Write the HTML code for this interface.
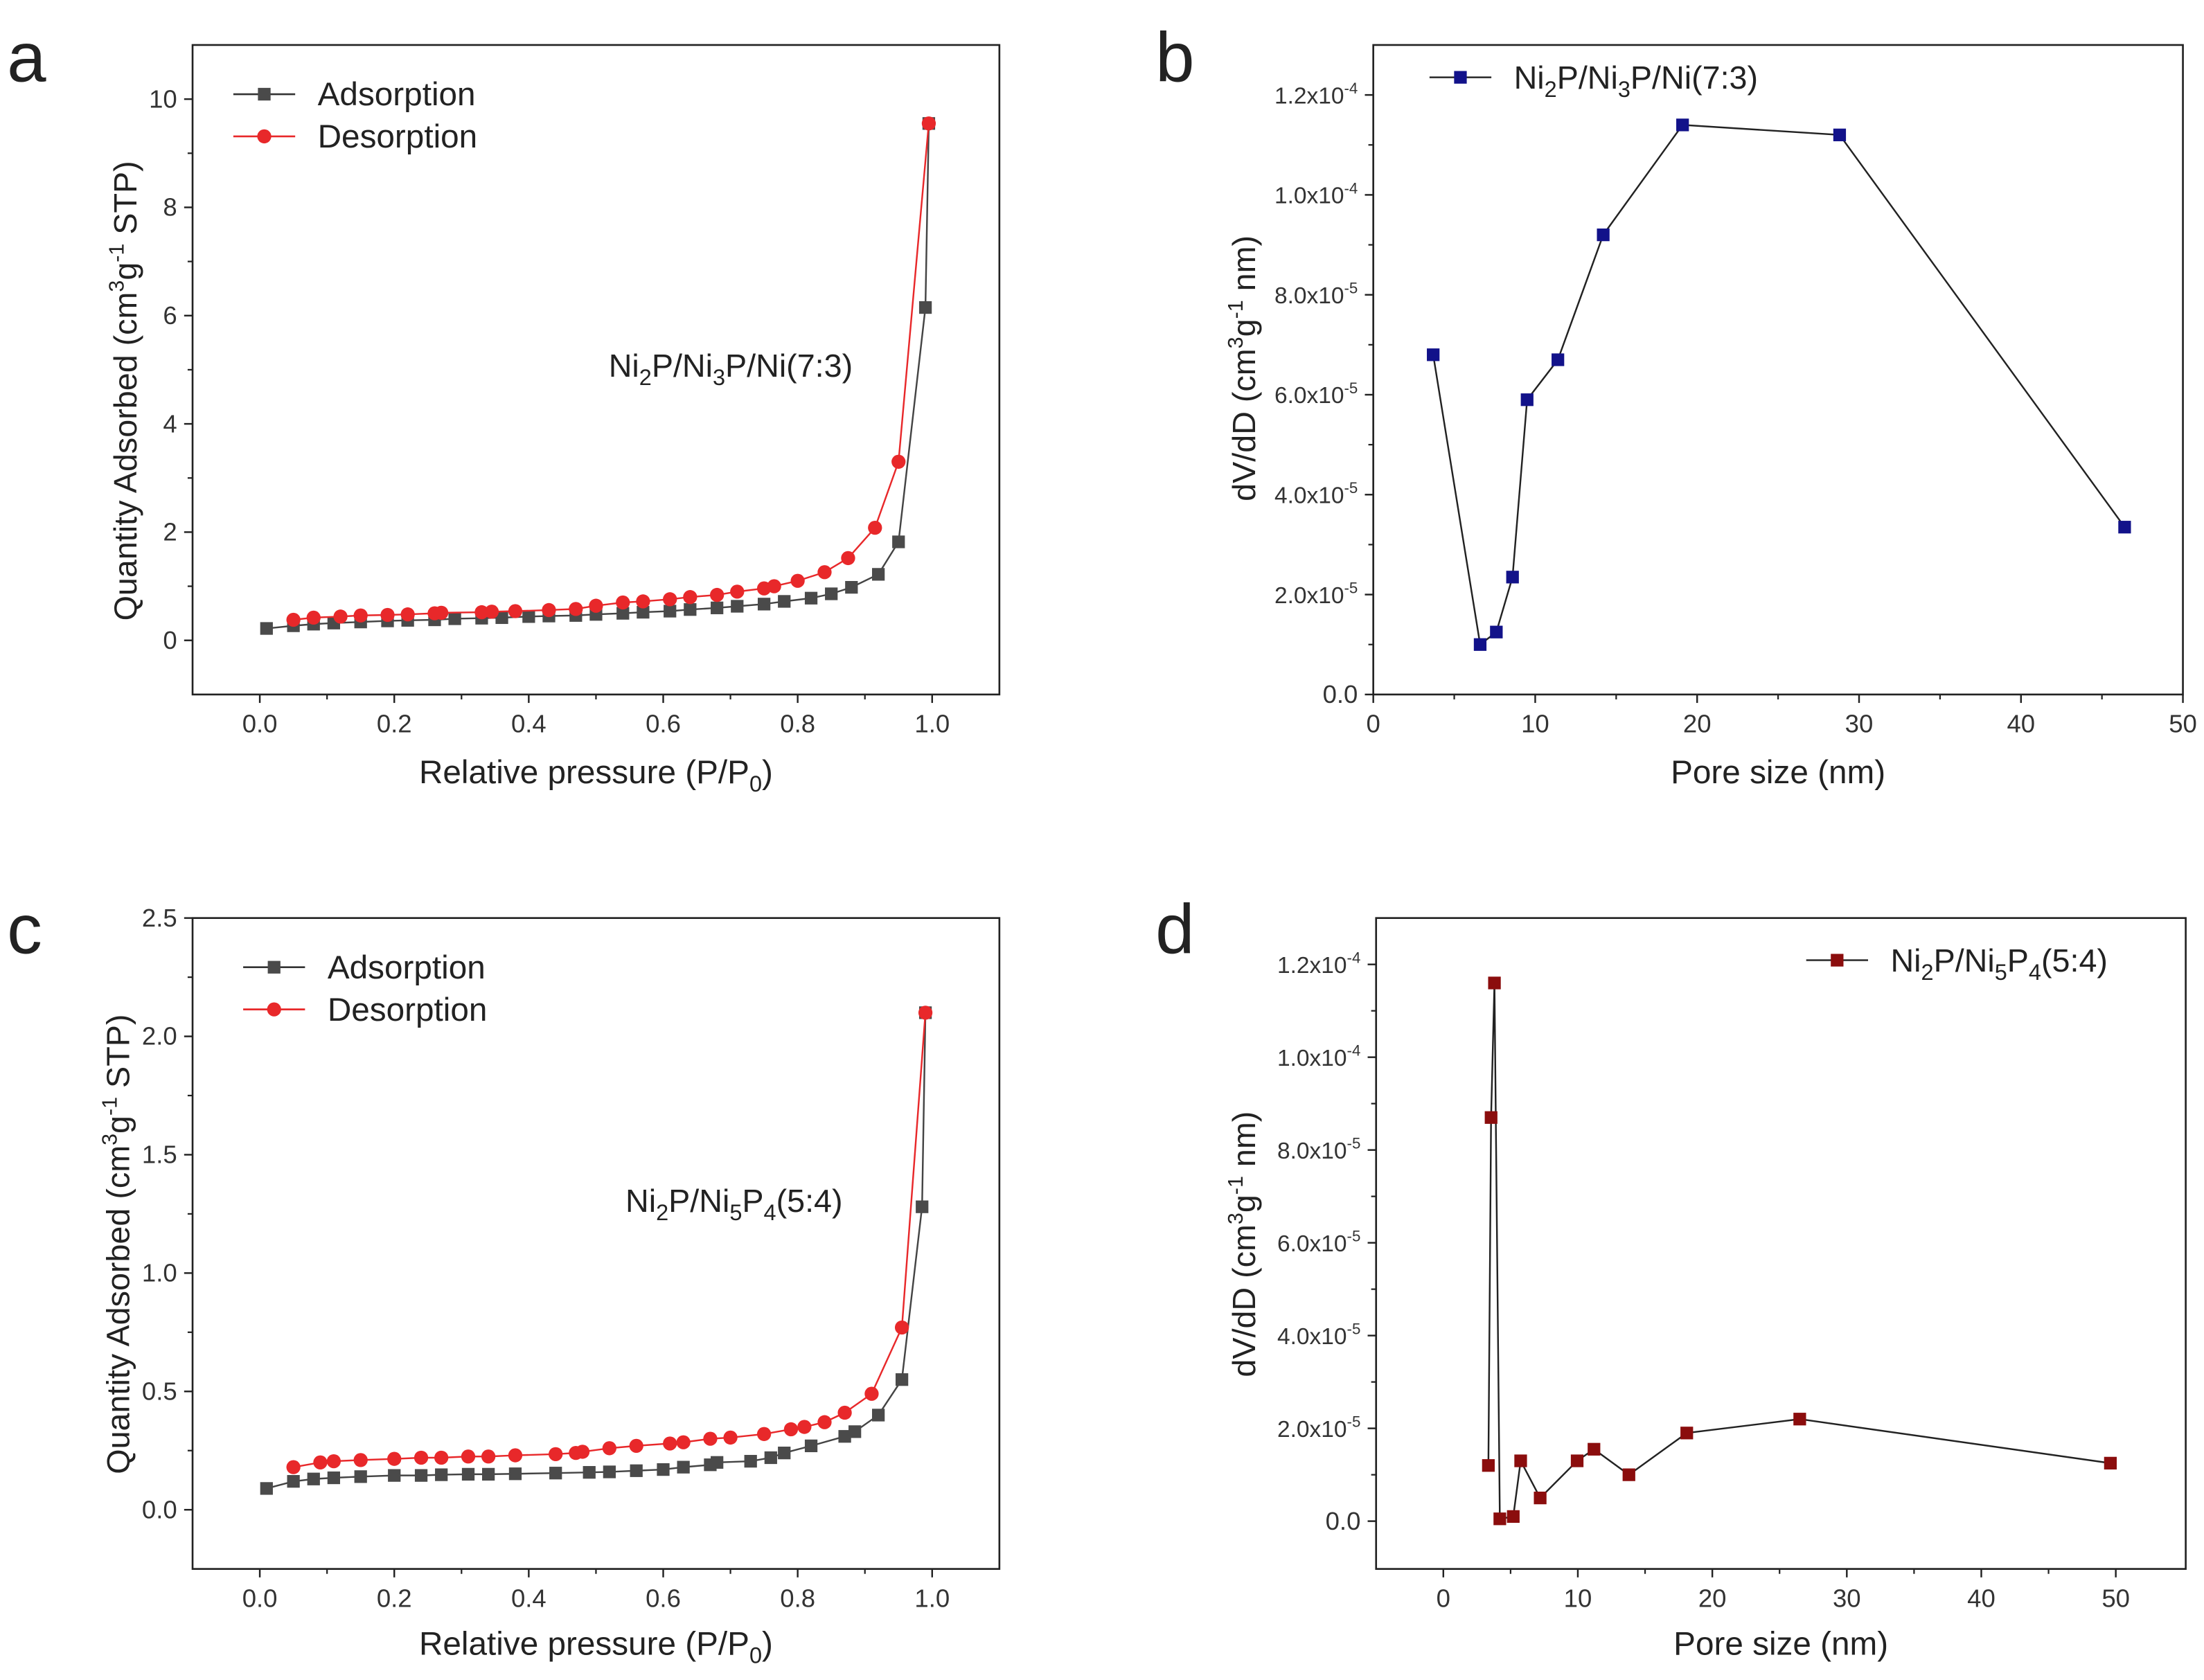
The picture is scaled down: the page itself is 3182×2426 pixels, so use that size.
<!DOCTYPE html>
<html><head><meta charset="utf-8"><style>
html,body{margin:0;padding:0;background:#fff;}
svg{display:block;font-family:"Liberation Sans",Arial,sans-serif;}
</style></head><body>
<svg id="fig" width="3182" height="2426" viewBox="0 0 1568 1195" preserveAspectRatio="none" xmlns="http://www.w3.org/2000/svg"></svg>
<script>
// Panel a data
const aAdsX=[0.01,0.05,0.08,0.11,0.15,0.19,0.22,0.26,0.29,0.33,0.36,0.40,0.43,0.47,0.50,0.54,0.57,0.61,0.64,0.68,0.71,0.75,0.78,0.82,0.85,0.88,0.92,0.95,0.99,0.995];
const aAdsY=[0.22,0.27,0.30,0.32,0.34,0.36,0.37,0.38,0.40,0.41,0.42,0.44,0.45,0.46,0.48,0.50,0.52,0.54,0.57,0.60,0.63,0.67,0.72,0.78,0.86,0.98,1.22,1.82,6.15,9.55];
const aDesX=[0.05,0.08,0.12,0.15,0.19,0.22,0.26,0.27,0.33,0.345,0.38,0.43,0.47,0.50,0.54,0.57,0.61,0.64,0.68,0.71,0.75,0.765,0.80,0.84,0.875,0.915,0.95,0.995];
const aDesY=[0.38,0.42,0.44,0.46,0.47,0.48,0.50,0.51,0.52,0.53,0.54,0.56,0.58,0.64,0.70,0.72,0.76,0.80,0.84,0.90,0.96,1.00,1.10,1.26,1.52,2.08,3.30,9.55];
// Panel b data
const bX=[3.7,6.6,7.6,8.6,9.5,11.4,14.2,19.1,28.8,46.4];
const bY=[6.8e-5,1.0e-5,1.25e-5,2.35e-5,5.9e-5,6.7e-5,9.2e-5,1.14e-4,1.12e-4,3.35e-5];
// Panel c data
const cAdsX=[0.01,0.05,0.08,0.11,0.15,0.20,0.24,0.27,0.31,0.34,0.38,0.44,0.49,0.52,0.56,0.60,0.63,0.67,0.68,0.73,0.76,0.78,0.82,0.87,0.885,0.92,0.955,0.985,0.99];
const cAdsY=[0.09,0.12,0.13,0.135,0.14,0.145,0.145,0.148,0.15,0.15,0.152,0.155,0.158,0.16,0.165,0.17,0.18,0.19,0.20,0.205,0.22,0.24,0.27,0.31,0.33,0.40,0.55,1.28,2.10];
const cDesX=[0.05,0.09,0.11,0.15,0.20,0.24,0.27,0.31,0.34,0.38,0.44,0.47,0.48,0.52,0.56,0.61,0.63,0.67,0.70,0.75,0.79,0.81,0.84,0.87,0.91,0.955,0.99];
const cDesY=[0.18,0.20,0.205,0.21,0.215,0.22,0.22,0.225,0.225,0.23,0.235,0.24,0.245,0.26,0.27,0.28,0.285,0.30,0.305,0.32,0.34,0.35,0.37,0.41,0.49,0.77,2.10];
// Panel d data
const dX=[3.35,3.55,3.8,4.2,5.2,5.75,7.2,9.95,11.2,13.8,18.1,26.5,49.6];
const dY=[1.2e-5,8.7e-5,1.16e-4,0.05e-5,0.1e-5,1.3e-5,0.5e-5,1.3e-5,1.55e-5,1.0e-5,1.9e-5,2.2e-5,1.25e-5];
// tick labels
const isoXTicks=["0.0","0.2","0.4","0.6","0.8","1.0"];
const aYTicks=["0","2","4","6","8","10"];
const cYTicks=["0.0","0.5","1.0","1.5","2.0","2.5"];
const psdXTicksB=["0","10","20","30","40","50"];
const psdXTicksD=["0","10","20","30","40","50"];
const psdYTicks=["0.0","2.0","4.0","6.0","8.0","1.0","1.2"];
const psdYExp=["","-5","-5","-5","-5","-4","-4"];

const NS="http://www.w3.org/2000/svg";
const svg=document.getElementById('fig');
function el(tag,attrs,parent,txt){const e=document.createElementNS(NS,tag);for(const k in attrs)e.setAttribute(k,attrs[k]);if(txt!==undefined)e.textContent=txt;(parent||svg).appendChild(e);return e;}

function panel(o){
  const g=el('g',{});
  
  
  const sx=v=>o.L+(v-o.x0)/(o.x1-o.x0)*(o.R-o.L);
  const sy=v=>o.B-(v-o.y0)/(o.y1-o.y0)*(o.B-o.T);
  const fr=el('rect',{x:o.L,y:o.T,width:o.R-o.L,height:o.B-o.T,fill:'none',stroke:'#222','stroke-width':1.3},g);
  
  
  o.xt.forEach((v,i)=>{const x=sx(v);
    el('line',{x1:x,y1:o.B,x2:x,y2:o.B+6,stroke:'#222','stroke-width':1.2},g);
    const t=el('text',{x:x,y:o.B+27,'font-size':18,'text-anchor':'middle',fill:'#333'},g,o.xl[i]);
    
    
    if(i<o.xt.length-1){const xm=sx(v+(o.xt[1]-o.xt[0])/2);el('line',{x1:xm,y1:o.B,x2:xm,y2:o.B+3.5,stroke:'#222','stroke-width':1.1},g);}
  });
  o.yt.forEach((v,i)=>{const y=sy(v);
    el('line',{x1:o.L,y1:y,x2:o.L-6,y2:y,stroke:'#222','stroke-width':1.2},g);
    const t=el('text',{x:o.L-11,y:y+6,'font-size':18,'text-anchor':'end',fill:'#333'},g);
    
    
    if(o.ye&&o.ye[i]){t.setAttribute('font-size',16.5);
      el('tspan',{},t,o.yl[i]+'x10');el('tspan',{dy:-7,'font-size':11},t,o.ye[i]);}
    else t.textContent=o.yl[i];
    if(i<o.yt.length-1){const ym=sy(v+(o.yt[1]-o.yt[0])/2);el('line',{x1:o.L,y1:ym,x2:o.L-3.5,y2:ym,stroke:'#222','stroke-width':1.1},g);}
  });
  o.series.forEach(s=>{
    const pts=s.x.map((v,i)=>sx(v).toFixed(2)+','+sy(s.y[i]).toFixed(2)).join(' ');
    const pl=el('polyline',{points:pts,fill:'none',stroke:s.line,'stroke-width':1.2},g);
    
    
    s.x.forEach((v,i)=>{const x=sx(v),y=sy(s.y[i]);let m;
      if(s.shape==='c')m=el('circle',{cx:x,cy:y,r:5,fill:s.color},g);
      else m=el('rect',{x:x-4.5,y:y-4.5,width:9,height:9,fill:s.color},g);
      
      
    });
  });
  return g;
}
function txt(x,y,size,content,name,anchor,rot){
  const t=el('text',{x:x,y:y,'font-size':size,fill:'#222','text-anchor':anchor||'start'});
  if(rot)t.setAttribute('transform','rotate(-90 '+x+' '+y+')');
  t.innerHTML=content;
  
  
  return t;
}
const sub=s=>'<tspan dy="6" font-size="16">'+s+'</tspan><tspan dy="-6">';
const sup=s=>'<tspan dy="-9" font-size="15">'+s+'</tspan><tspan dy="9">';

panel({name:'panel-a',L:137,R:711,T:32,B:494,x0:-0.1,x1:1.1,y0:-1,y1:11,
  xt:[0,0.2,0.4,0.6,0.8,1.0],xl:isoXTicks,yt:[0,2,4,6,8,10],yl:aYTicks,
  series:[{name:'adsorption-a',x:aAdsX,y:aAdsY,line:'#444',color:'#4a4a4a',shape:'s'},
          {name:'desorption-a',x:aDesX,y:aDesY,line:'#e8282a',color:'#e8282a',shape:'c'}]});
panel({name:'panel-b',L:977,R:1553,T:32,B:494,x0:0,x1:50,y0:0,y1:1.3e-4,
  xt:[0,10,20,30,40,50],xl:psdXTicksB,yt:[0,2e-5,4e-5,6e-5,8e-5,1e-4,1.2e-4],yl:psdYTicks,ye:psdYExp,
  series:[{name:'psd-b',x:bX,y:bY,line:'#222',color:'#12128a',shape:'s'}]});
panel({name:'panel-c',L:137,R:711,T:653,B:1116,x0:-0.1,x1:1.1,y0:-0.25,y1:2.5,
  xt:[0,0.2,0.4,0.6,0.8,1.0],xl:isoXTicks,yt:[0,0.5,1.0,1.5,2.0,2.5],yl:cYTicks,
  series:[{name:'adsorption-c',x:cAdsX,y:cAdsY,line:'#444',color:'#4a4a4a',shape:'s'},
          {name:'desorption-c',x:cDesX,y:cDesY,line:'#e8282a',color:'#e8282a',shape:'c'}]});
panel({name:'panel-d',L:979,R:1555,T:653,B:1116,x0:-5,x1:55.2,y0:-1.03e-5,y1:1.3e-4,
  xt:[0,10,20,30,40,50],xl:psdXTicksD,yt:[0,2e-5,4e-5,6e-5,8e-5,1e-4,1.2e-4],yl:psdYTicks,ye:psdYExp,
  series:[{name:'psd-d',x:dX,y:dY,line:'#222',color:'#8b0d0d',shape:'s'}]});

txt(5,58,50,'a','panel-letter-a');
txt(822,58,50,'b','panel-letter-b');
txt(5,678,50,'c','panel-letter-c');
txt(822,678,50,'d','panel-letter-d');

txt(424,557,23.5,'Relative pressure (P/P'+sub('0')+')</tspan>','x-axis-title-a','middle');
txt(424,1177,23.5,'Relative pressure (P/P'+sub('0')+')</tspan>','x-axis-title-c','middle');
txt(1265,557,23.5,'Pore size (nm)','x-axis-title-b','middle');
txt(1267,1177,23.5,'Pore size (nm)','x-axis-title-d','middle');
txt(97,278,23,'Quantity Adsorbed (cm'+sup('3')+'g'+sup('-1')+' STP)</tspan></tspan>','y-axis-title-a','middle',true);
txt(92,885,23,'Quantity Adsorbed (cm'+sup('3')+'g'+sup('-1')+' STP)</tspan></tspan>','y-axis-title-c','middle',true);
txt(893,262,23,'dV/dD (cm'+sup('3')+'g'+sup('-1')+' nm)</tspan></tspan>','y-axis-title-b','middle',true);
txt(893,885,23,'dV/dD (cm'+sup('3')+'g'+sup('-1')+' nm)</tspan></tspan>','y-axis-title-d','middle',true);

txt(433,268,23,'Ni'+sub('2')+'P/Ni'+sub('3')+'P/Ni(7:3)</tspan></tspan>','sample-label-a');
txt(445,862,23,'Ni'+sub('2')+'P/Ni'+sub('5')+'P'+sub('4')+'(5:4)</tspan></tspan></tspan>','sample-label-c');

function legend(x,y,color,shape,label,name,size){
  const g=el('g',{});
  
  
  el('line',{x1:x,y1:y,x2:x+44,y2:y,stroke:shape==='c'?color:'#333','stroke-width':1.3},g);
  if(shape==='c')el('circle',{cx:x+22,cy:y,r:5,fill:color},g);
  else el('rect',{x:x+17.5,y:y-4.5,width:9,height:9,fill:color},g);
  const t=el('text',{x:x+60,y:y+8,'font-size':size||23.5,fill:'#222'},g);
  t.innerHTML=label;
}
legend(166,67,'#4a4a4a','s','Adsorption','legend-adsorption-a');
legend(166,97,'#e8282a','c','Desorption','legend-desorption-a');
legend(173,688,'#4a4a4a','s','Adsorption','legend-adsorption-c');
legend(173,718,'#e8282a','c','Desorption','legend-desorption-c');
legend(1017,55,'#12128a','s','Ni'+sub('2')+'P/Ni'+sub('3')+'P/Ni(7:3)</tspan></tspan>','legend-psd-b',23);
legend(1285,683,'#8b0d0d','s','Ni'+sub('2')+'P/Ni'+sub('5')+'P'+sub('4')+'(5:4)</tspan></tspan></tspan>','legend-psd-d',23);
</script>
</body></html>
